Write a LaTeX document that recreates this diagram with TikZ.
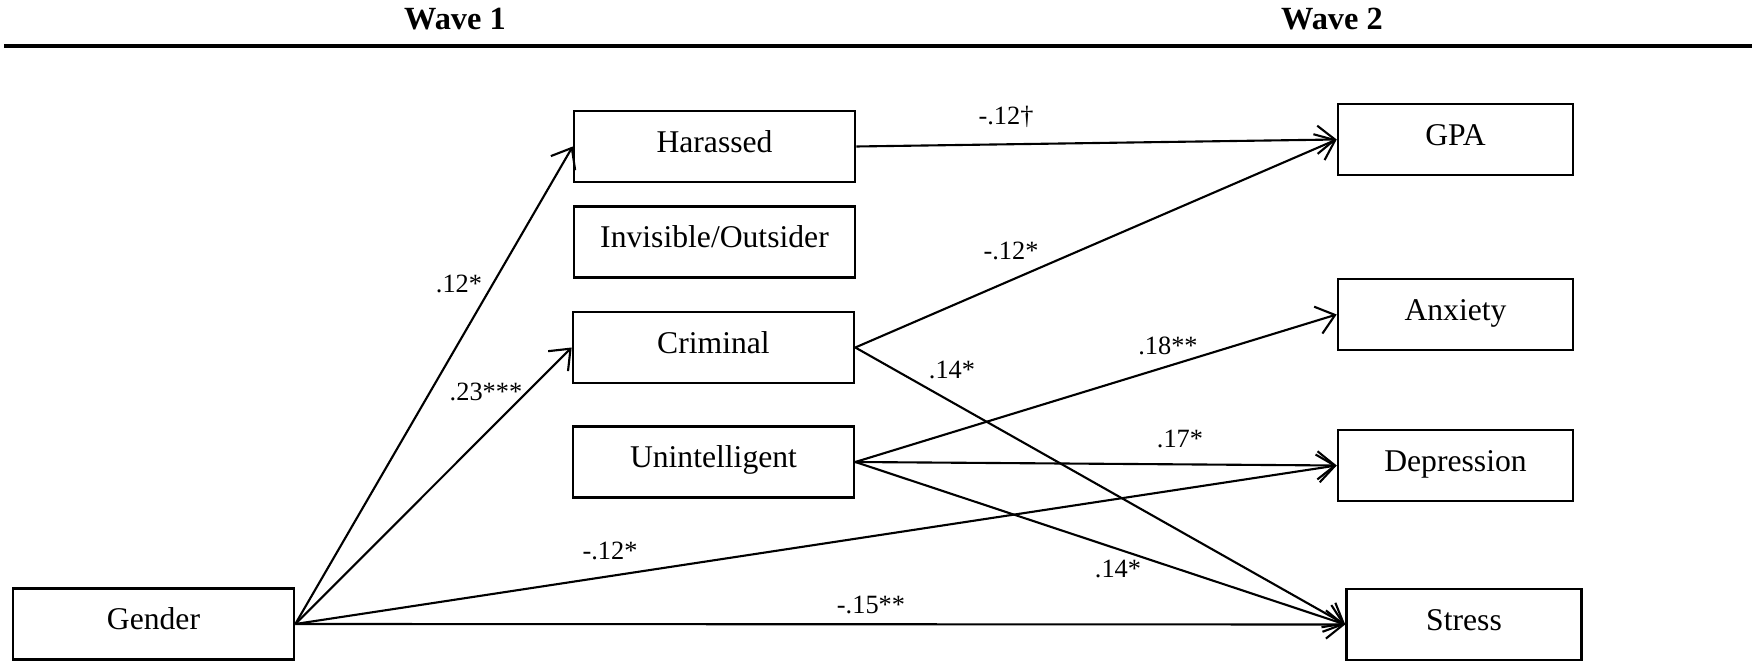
\documentclass[tikz,border=0pt]{standalone}
\usepackage{fontspec}
\setmainfont{Liberation Serif}
\usetikzlibrary{arrows.meta}
\tikzset{varbox/.style={draw, line width=0.7pt, minimum width=2.81cm, minimum height=0.71cm,
   inner sep=0pt, text height=6.5pt, text depth=3.3pt, font=\fontsize{9}{11}\selectfont},
 outbox/.style={varbox, minimum width=2.35cm},
 coef/.style={inner sep=0pt, font=\fontsize{7.5}{9}\selectfont},
 wave/.style={inner sep=0pt, font=\fontsize{9.2}{11}\selectfont\bfseries},
 link/.style={draw, line width=0.6pt, -{Straight Barb[length=5pt,width=8pt]}},
 }

\begin{document}
\begin{tikzpicture}[x=0.01cm, y=-0.01cm]
        \useasboundingbox (0, 0) rectangle (1760, 661);
        % header
        \node[wave] (w1) at (455, 19) {Wave 1};
        \node[wave] (w2) at (1332, 19) {Wave 2};
        \coordinate (rulel) at (4, 46);
        \coordinate (ruler) at (1752, 46);
        \draw[line width=1pt] (rulel) -- (ruler);
        % wave 1 variables
        \node[varbox] (gender) at (153.5, 624) {Gender};
        \node[varbox] (harassed) at (714.5, 146.5) {Harassed};
        \node[varbox] (invisible) at (714.5, 242) {Invisible/Outsider};
        \node[varbox] (criminal) at (713.5, 347.5) {Criminal};
        \node[varbox] (unintel) at (713.5, 462) {Unintelligent};
        % wave 2 outcomes
        \node[outbox] (gpa) at (1455.5, 139.5) {GPA};
        \node[outbox] (anxiety) at (1455.5, 314.5) {Anxiety};
        \node[outbox] (depression) at (1455.5, 465.5) {Depression};
        \node[outbox] (stress) at (1464, 624.5) {Stress};
        % paths
        \draw[link] (gender.east) -- (harassed.west);
        \draw[link] (gender.east) -- (criminal.west);
        \draw[link] (gender.east) -- (depression.west);
        \draw[link] (gender.east) -- (stress.west);
        \draw[link] (harassed.east) -- (gpa.west);
        \draw[link] (criminal.east) -- (gpa.west);
        \draw[link] (criminal.east) -- (stress.west);
        \draw[link] (unintel.east) -- (anxiety.west);
        \draw[link] (unintel.east) -- (depression.west);
        \draw[link] (unintel.east) -- (stress.west);
        % coefficients
        \node[coef] (c1) at (459, 284) {.12*};
        \node[coef] (c2) at (486, 392) {.23***};
        \node[coef] (c3) at (1006, 117) {-.12\textdagger};
        \node[coef] (c4) at (1011, 251) {-.12*};
        \node[coef] (c5) at (952, 370) {.14*};
        \node[coef] (c6) at (1168, 346) {.18**};
        \node[coef] (c7) at (1180, 439) {.17*};
        \node[coef] (c8) at (610, 551) {-.12*};
        \node[coef] (c9) at (1118, 569) {.14*};
        \node[coef] (c10) at (871, 605) {-.15**};
    \end{tikzpicture}
\end{document}
